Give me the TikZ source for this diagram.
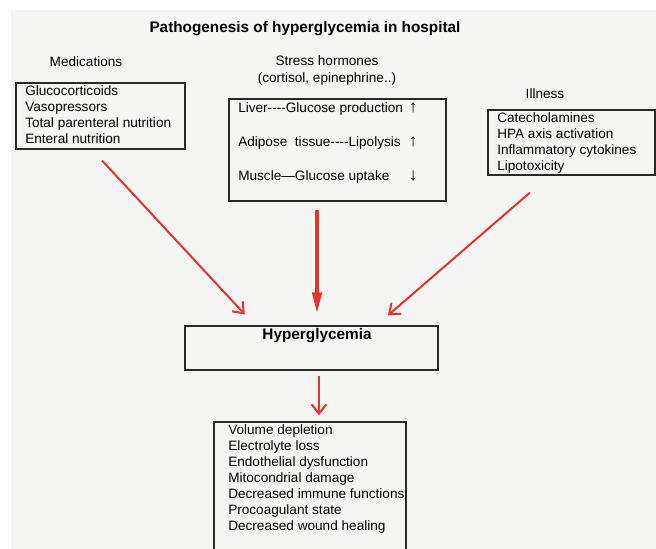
\documentclass[tikz,border=0pt]{standalone}
\usepackage{fontspec}
\setmainfont{Liberation Sans}
\usetikzlibrary{arrows.meta}
\definecolor{bggray}{RGB}{245,245,243}
\definecolor{arrred}{RGB}{232,50,48}
\definecolor{boxline}{RGB}{40,40,40}

\tikzset{
  box/.style={draw=boxline, line width=1pt, inner sep=0pt},
  list/.style={align=left, anchor=north west, inner sep=0pt, font=\fontsize{10.2}{12}\selectfont},
  head/.style={align=center, inner sep=0pt, font=\fontsize{10.2}{12.75}\selectfont},
  bold/.style={inner sep=0pt, font=\bfseries\fontsize{11.5}{14}\selectfont},
  redarrow/.style={draw=arrred, line width=1.5pt, -{Straight Barb[length=7pt,width=11pt]}},
  bigarrow/.style={draw=arrred, line width=3.6pt, -{Triangle[length=18pt,width=6.5pt]}},
}
\def\up{{\fontsize{13}{12}\selectfont↑}}
\def\down{{\fontsize{13}{12}\selectfont↓}}

\begin{document}
\begin{tikzpicture}[x=0.75pt, y=-0.75pt]
\useasboundingbox (0,0) rectangle (656,549);
\fill[white] (0,0) rectangle (656,549);
\begin{scope}
\clip (11,10) rectangle (656,549);
\fill[bggray] (11,10) rectangle (656,549);

\node[bold] (title) at (305,29) {Pathogenesis of hyperglycemia in hospital};

% causes
\node[head] (medhead) at (86,62) {Medications};
\node[head] (stresshead) at (327,70.5) {Stress hormones\\(cortisol, epinephrine..)};
\node[head] (illhead) at (545,94) {Illness};

\node[box, minimum width=126.75pt, minimum height=49.5pt] (medbox) at (100.5,116) {};
\node[list] (medlist) at (25,85) {Glucocorticoids\\Vasopressors\\Total parenteral nutrition\\Enteral nutrition};

\node[box, minimum width=162.75pt, minimum height=76.5pt] (stressbox) at (337.5,150) {};
\node[list] (stresslist) at (238,102) {\makebox[128pt][l]{Liver-{}-{}-{}-Glucose production}\up\\[13.5pt]
  \makebox[128pt][l]{Adipose~ tissue-{}-{}-{}-Lipolysis}\up\\[13.5pt]
  \makebox[128pt][l]{Muscle—Glucose uptake}\down};

\node[box, minimum width=125.25pt, minimum height=48.75pt] (illbox) at (571.5,142.5) {};
\node[list] (illlist) at (497,112) {Catecholamines\\HPA axis activation\\Inflammatory cytokines\\Lipotoxicity};

% result
\node[box, minimum width=189.75pt, minimum height=33pt] (hypbox) at (311.5,348) {};
\node[bold] (hyptext) at (317,336) {Hyperglycemia};

\node[box, minimum width=144pt, minimum height=112.5pt] (effbox) at (310,497) {};
\node[list] (efflist) at (228,424) {Volume depletion\\Electrolyte loss\\Endothelial dysfunction\\Mitocondrial damage\\Decreased immune functions\\Procoagulant state\\Decreased wound healing};

\draw[redarrow, shorten <=11.2pt, shorten >=11.2pt] ([xshift=-6.4pt]medbox.south) -- ([xshift=-42.4pt]hypbox.north);
\draw[bigarrow, shorten <=6pt, shorten >=6.75pt] (stressbox.south -| hyptext) -- (hypbox.north -| hyptext);
\draw[redarrow, shorten <=19.4pt, shorten >=11.4pt] ([xshift=-16.5pt]illbox.south) -- ([xshift=48.75pt]hypbox.north);
\draw[redarrow, shorten <=3.75pt, shorten >=4.5pt] ([xshift=5.6pt]hypbox.south) -- ([xshift=5.6pt]hypbox.south |- effbox.north);
\end{scope}
\end{tikzpicture}
\end{document}
